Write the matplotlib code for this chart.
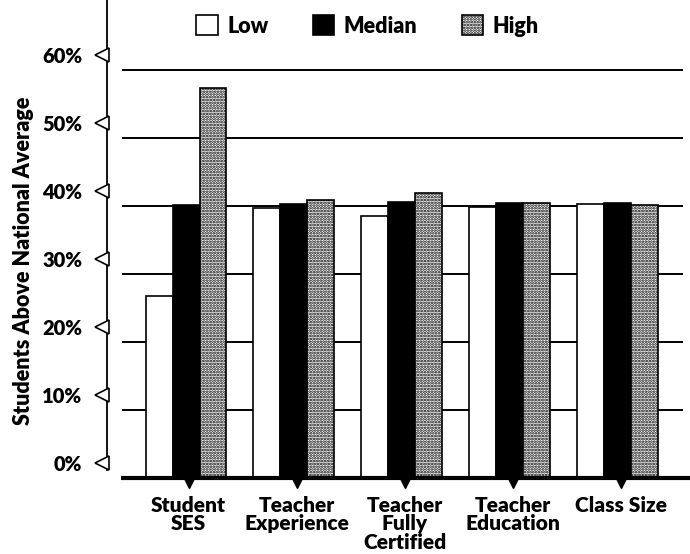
import numpy as np
import matplotlib.pyplot as plt
from matplotlib.patches import Patch

plt.rcParams['font.family'] = ['Lato', 'DejaVu Sans']
plt.rcParams['font.weight'] = 'heavy'
plt.rcParams['hatch.linewidth'] = 1.3

categories = ['Student\nSES', 'Teacher\nExperience', 'Teacher\nFully\nCertified',
              'Teacher\nEducation', 'Class Size']
low = [26.8, 39.7, 38.5, 39.8, 40.3]
median = [40.2, 40.3, 40.6, 40.5, 40.4]
high = [57.4, 40.9, 41.9, 40.5, 40.2]
ticks = [0, 10, 20, 30, 40, 50, 60]
tick_labels = ['0%', '10%', '20%', '30%', '40%', '50%', '60%']

# the scanned labels sit a little above their gridlines
label_shift = 2.2

fig = plt.figure(figsize=(6.9, 5.54), dpi=100)
ax = fig.add_axes([107 / 690, 64 / 554, 583 / 690, 490 / 554])

x = np.arange(len(categories)) * 4.0
ax.set_xlim(-2.926, 18.667)
ax.set_ylim(-1.76, 70.3)

# gridlines behind the bars
ax.hlines(ticks[1:], -2.37, 18.4, color='black', lw=1.4, zorder=0)
ax.hlines(0, -2.4, 18.667, color='black', lw=3, zorder=3)

ax.bar(x - 1, low, width=1, facecolor='white', edgecolor='black', lw=1.2, zorder=2)
ax.bar(x, median, width=1, facecolor='black', edgecolor='black', lw=1.2, zorder=2)
ax.bar(x + 1, high, width=1, facecolor='white', edgecolor='black', lw=1.2,
       hatch='......', zorder=2)

for s in ['top', 'right', 'bottom']:
    ax.spines[s].set_visible(False)
ax.spines['left'].set_linewidth(1.3)
ax.spines['left'].set_bounds(1.2, 70.3)

ypos = np.array(ticks) + label_shift
ax.set_yticks(ypos, tick_labels, fontsize=14.5)
ax.tick_params(axis='y', length=0, pad=18)
ax.plot(np.full(len(ypos), -0.009), ypos, marker='<', ls='none', ms=10,
        mfc='white', mec='black', mew=1.2, transform=ax.get_yaxis_transform(),
        clip_on=False, zorder=4)

xt = x + 0.1
ax.set_xticks(xt, categories, fontsize=15, linespacing=0.98, va='top')
ax.tick_params(axis='x', length=0, pad=4)
ax.plot(xt, np.full(len(x), -0.8), marker='v', ls='none', ms=7, color='black',
        clip_on=False, zorder=4)

ax.set_ylabel('Students Above National Average', fontsize=15.5, fontweight='heavy')
ax.yaxis.set_label_coords(-0.126, 0.467)

handles = [Patch(facecolor='white', edgecolor='black', lw=1.2),
           Patch(facecolor='black', edgecolor='black', lw=1.2),
           Patch(facecolor='white', edgecolor='black', lw=1.2, hatch='......')]
ax.legend(handles, ['Low', 'Median', 'High'], ncol=3, frameon=False,
          loc='center left', bbox_to_anchor=((196 - 107) / 583, (490 - 26) / 490),
          borderaxespad=0, borderpad=0, handlelength=1.0, handleheight=1.0,
          handletextpad=0.45, columnspacing=2.05,
          prop={'size': 15.5, 'weight': 'heavy'})

fig.savefig('out.png', dpi=100)
